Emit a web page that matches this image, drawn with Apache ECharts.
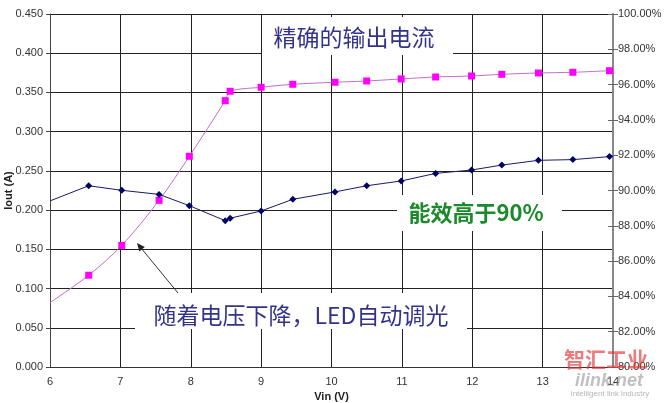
<!DOCTYPE html>
<html>
<head>
<meta charset="utf-8">
<script src="https://cdn.jsdelivr.net/npm/echarts@6/dist/echarts.min.js"></script>
<style>
html,body{margin:0;padding:0;background:#fff;}
#c{width:671px;height:403px;}
</style>
</head>
<body>
<div id="c"></div>
<script>
// Data
var vin = [6, 6.55, 7.02, 7.55, 7.98, 8.49, 8.56, 9.0, 9.45, 10.05, 10.5, 10.99, 11.48, 11.99, 12.42, 12.94, 13.43, 13.95];
var iout = [0.082, 0.117, 0.155, 0.2125, 0.2686, 0.3395, 0.3515, 0.3566, 0.3604, 0.3630, 0.3646, 0.3672, 0.3697, 0.3710, 0.3731, 0.3748, 0.3757, 0.3777];
var efficiency = [89.41, 90.27, 90.01, 89.78, 89.14, 88.29, 88.43, 88.84, 89.50, 89.92, 90.27, 90.54, 90.97, 91.16, 91.44, 91.71, 91.75, 91.92];
var xTitle = 'Vin (V)';
var yTitle = 'Iout (A)';
var notes = ['精确的输出电流', '能效高于90%', '随着电压下降，LED自动调光'];

function pairs(xs, ys) {
  return xs.map(function (x, i) {
    var item = { value: [x, ys[i]] };
    if (i === 0) item.symbol = 'none';
    return item;
  });
}

var chart = echarts.init(document.getElementById('c'), null, { renderer: 'canvas' });
var font = 'Liberation Sans, Arial, sans-serif';
var cjk = '"Noto Sans CJK SC", sans-serif';

chart.setOption({
  backgroundColor: '#ffffff',
  animation: false,
  grid: { left: 50, right: 58, top: 14, bottom: 36, containLabel: false, outerBoundsMode: 'none' },
  xAxis: {
    type: 'value', min: 6, max: 14, interval: 1,
    name: xTitle, nameLocation: 'middle', nameGap: 24, nameMoveOverlap: false,
    nameTextStyle: { fontFamily: font, fontSize: 11, fontWeight: 'bold', color: '#222' },
    axisLine: { show: true, lineStyle: { color: '#333', width: 1 } },
    axisTick: { show: false },
    axisLabel: { fontFamily: font, fontSize: 11, color: '#333', margin: 9 },
    splitLine: { show: true, lineStyle: { color: '#222', width: 1 } }
  },
  yAxis: [
    {
      type: 'value', min: 0, max: 0.45, interval: 0.05, position: 'left',
      name: yTitle, nameLocation: 'middle', nameGap: 36, nameRotate: 90, nameMoveOverlap: false,
      nameTextStyle: { fontFamily: font, fontSize: 11, fontWeight: 'bold', color: '#222' },
      axisLine: { show: true, lineStyle: { color: '#444', width: 1 } },
      axisTick: { show: true, length: 4, lineStyle: { color: '#444' } },
      axisLabel: { fontFamily: font, fontSize: 11, color: '#333', margin: 7,
        formatter: function (v) { return v.toFixed(3); } },
      splitLine: { show: true, lineStyle: { color: '#222', width: 1 } }
    },
    {
      type: 'value', min: 80, max: 100, interval: 2, position: 'right',
      axisLine: { show: true, lineStyle: { color: '#888', width: 2 } },
      axisTick: { show: true, length: 5, lineStyle: { color: '#666' } },
      axisLabel: { fontFamily: font, fontSize: 11, color: '#333', margin: 5,
        formatter: function (v) { return v.toFixed(2) + '%'; } },
      splitLine: { show: false }
    },
    {
      type: 'value', min: 80, max: 100, interval: 2, position: 'right',
      axisLine: { show: false },
      axisTick: { show: true, inside: true, length: 5, lineStyle: { color: '#666' } },
      axisLabel: { show: false },
      splitLine: { show: false }
    }
  ],
  graphic: [
    { type: 'rect', z: 1, shape: { x: 262, y: 17, width: 191, height: 38 }, style: { fill: '#fff' } },
    { type: 'rect', z: 1, shape: { x: 397, y: 195, width: 165, height: 36 }, style: { fill: '#fff' } },
    { type: 'rect', z: 1, shape: { x: 135, y: 293, width: 332, height: 36 }, style: { fill: '#fff' } },
    { type: 'text', z: 50, style: { x: 354, y: 37, text: notes[0], fill: '#33338a',
        font: '23px ' + cjk, textAlign: 'center', textVerticalAlign: 'middle' } },
    { type: 'text', z: 50, style: { x: 476, y: 213, text: notes[1], fill: '#1a8a2a',
        font: 'bold 22px ' + cjk, textAlign: 'center', textVerticalAlign: 'middle' } },
    { type: 'text', z: 50, style: { x: 301, y: 315, text: notes[2], fill: '#33338a',
        font: '23px ' + cjk, textAlign: 'center', textVerticalAlign: 'middle' } },
    { type: 'line', z: 50, shape: { x1: 178, y1: 293, x2: 141, y2: 248 }, style: { stroke: '#333', lineWidth: 1 } },
    { type: 'polygon', z: 50, shape: { points: [[137, 243], [144.8, 247], [139.4, 251.4]] }, style: { fill: '#222' } },
    { type: 'text', z: 60, style: { x: 606, y: 359, text: '智汇工业', fill: 'rgba(225,50,50,0.65)',
        font: 'bold 21px ' + cjk, textAlign: 'center', textVerticalAlign: 'middle' } },
    { type: 'text', z: 60, style: { x: 609, y: 381, text: 'ilink.net', fill: 'rgba(150,150,150,0.6)',
        font: 'italic bold 18px ' + font, textAlign: 'center', textVerticalAlign: 'middle' } },
    { type: 'text', z: 60, style: { x: 610, y: 394, text: 'intelligent link industry', fill: 'rgba(150,150,150,0.7)',
        font: '8px ' + font, textAlign: 'center', textVerticalAlign: 'middle' } }
  ],
  series: [
    {
      name: 'Iout', type: 'line', xAxisIndex: 0, yAxisIndex: 0, z: 3,
      data: pairs(vin, iout), smooth: 0.3,
      symbol: 'rect', symbolSize: 7,
      lineStyle: { color: '#c070c8', width: 1 },
      itemStyle: { color: '#ff00ff' }
    },
    {
      name: 'Efficiency', type: 'line', xAxisIndex: 0, yAxisIndex: 1, z: 3,
      data: pairs(vin, efficiency), smooth: false,
      symbol: 'diamond', symbolSize: 7,
      lineStyle: { color: '#1a1a66', width: 1 },
      itemStyle: { color: '#000066' }
    }
  ]
});
</script>
</body>
</html>
